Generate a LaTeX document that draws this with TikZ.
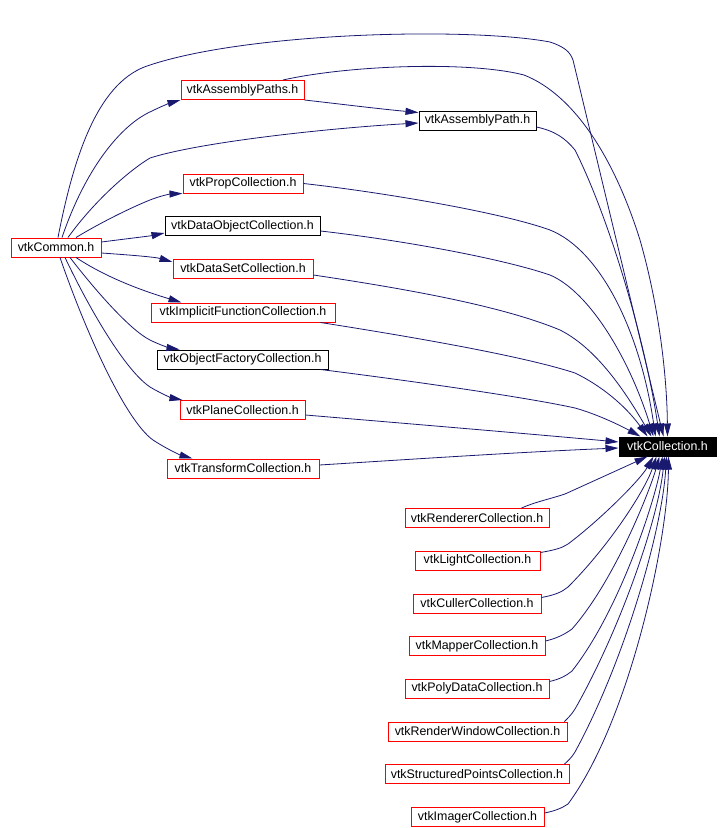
\documentclass[tikz,border=0pt]{standalone}
\usepackage{fontspec}
\setmainfont{Liberation Sans}
\usetikzlibrary{arrows.meta}

\definecolor{edgeblue}{HTML}{191970}

\begin{document}
\begin{tikzpicture}
[
	x=1pt,y=-1pt,
	box/.style={draw,line width=1pt,inner sep=0pt,minimum height=19pt,font=\fontsize{12.4}{14}\selectfont},
	redbox/.style={box,draw=red},
	blackbox/.style={box,draw=black},
	mainbox/.style={box,draw=black,fill=black,text=white},
	edge/.style={edgeblue,line width=0.8pt,-{Triangle[length=13pt,width=7pt]}}
]

	\useasboundingbox (0,0) rectangle (728,828);

	% headers
	\node[redbox,minimum width=90] at (56,247.5) (common) {vtkCommon.h};
	\node[redbox,minimum width=123] at (242.5,90) (paths) {vtkAssemblyPaths.h};
	\node[blackbox,minimum width=117] at (477.5,120.5) (path) {vtkAssemblyPath.h};
	\node[redbox,minimum width=120] at (243,183.5) (prop) {vtkPropCollection.h};
	\node[blackbox,minimum width=155] at (242.5,226) (dataobj) {vtkDataObjectCollection.h};
	\node[redbox,minimum width=140] at (243,268.5) (dataset) {vtkDataSetCollection.h};
	\node[redbox,minimum width=184] at (243,312.5) (implicit) {vtkImplicitFunctionCollection.h};
	\node[blackbox,minimum width=171] at (242.5,359.5) (objfact) {vtkObjectFactoryCollection.h};
	\node[redbox,minimum width=125] at (242.5,410) (plane) {vtkPlaneCollection.h};
	\node[redbox,minimum width=152] at (243,468.5) (transform) {vtkTransformCollection.h};
	\node[mainbox,minimum width=97] at (667.5,446.5) (coll) {vtkCollection.h};
	\node[redbox,minimum width=144] at (477,518) (renderer) {vtkRendererCollection.h};
	\node[redbox,minimum width=125] at (477.5,560.5) (light) {vtkLightCollection.h};
	\node[redbox,minimum width=128] at (477,603.5) (culler) {vtkCullerCollection.h};
	\node[redbox,minimum width=136] at (477,646) (mapper) {vtkMapperCollection.h};
	\node[redbox,minimum width=144] at (477,688.5) (polydata) {vtkPolyDataCollection.h};
	\node[redbox,minimum width=179] at (477.5,731.5) (renderwin) {vtkRenderWindowCollection.h};
	\node[redbox,minimum width=184] at (477,774) (structpts) {vtkStructuredPointsCollection.h};
	\node[redbox,minimum width=133] at (477.5,817) (imager) {vtkImagerCollection.h};

	% edges out of vtkCommon.h
	\draw[edge] ([xshift=2pt]common.north) .. controls (75,150) and (100,80) .. (150,65)
		.. controls (250,32) and (470,27) .. (550,42) .. controls (565,47) and (570,52) .. (573,60)
		-- ([xshift=-4pt]coll.north);
	\draw[edge] ([xshift=6pt]common.north) .. controls (85,170) and (120,125) .. (152,111)
		.. controls (160,107) and (170,103) .. (paths.south west);
	\draw[edge] ([xshift=12pt]common.north) .. controls (95,200) and (130,170) .. (150,158)
		.. controls (200,142) and (330,128) .. ([yshift=-2.5pt]path.west);
	\draw[edge] ([xshift=20pt]common.north) .. controls (100,223) and (130,208) .. (150,200)
		.. controls (160,196) and (170,194) .. (prop.south west);
	\draw[edge] ([yshift=5.5pt]common.east) .. controls (125,239) and (150,236) .. ([yshift=-7pt]dataobj.west);
	\draw[edge] ([yshift=-5.5pt]common.east) .. controls (130,255) and (155,257) .. ([yshift=6.5pt]dataset.west);
	\draw[edge] ([xshift=20pt]common.south) .. controls (110,280) and (150,293) .. ([xshift=31pt]implicit.north west);
	\draw[edge] ([xshift=14pt]common.south) .. controls (95,290) and (130,330) .. (150,340)
		.. controls (160,345) and (170,348) .. ([xshift=23pt]objfact.north west);
	\draw[edge] ([xshift=9pt]common.south) .. controls (90,310) and (125,370) .. (150,387)
		.. controls (160,393) and (172,398) .. ([xshift=3pt]plane.north west);
	\draw[edge] ([xshift=4pt]common.south) .. controls (85,330) and (125,420) .. (153,440)
		.. controls (165,448) and (180,455) .. ([xshift=26pt]transform.north west);

	% vtkAssemblyPaths.h and vtkAssemblyPath.h
	\draw[edge] (paths.south east) .. controls (340,104) and (380,109) .. ([yshift=-2pt]path.north west);
	\draw[edge] ([xshift=40.5pt]paths.north) .. controls (350,65) and (470,61) .. (524,75)
		.. controls (575,95) and (615,160) .. (640,240) .. controls (660,310) and (667,380) .. (coll.north);
	\draw[edge] ([yshift=-6.5pt]path.east) .. controls (555,131) and (565,138) .. (575,150)
		.. controls (610,220) and (645,340) .. ([xshift=-8pt]coll.north);

	% left column into vtkCollection.h
	\draw[edge] (prop.east) .. controls (380,192) and (500,212) .. (550,230)
		.. controls (600,250) and (640,330) .. ([xshift=-12pt]coll.north);
	\draw[edge] ([yshift=-5pt]dataobj.east) .. controls (400,240) and (500,258) .. (550,275)
		.. controls (590,292) and (630,360) .. ([xshift=-14pt]coll.north);
	\draw[edge] ([yshift=-6.5pt]dataset.east) .. controls (400,288) and (500,305) .. (560,330)
		.. controls (600,350) and (630,400) .. ([xshift=-16pt]coll.north);
	\draw[edge] ([xshift=-15pt]implicit.south east) .. controls (400,335) and (520,355) .. (575,373)
		.. controls (600,385) and (625,405) .. ([xshift=-20pt]coll.north);
	\draw[edge] ([xshift=-8pt]objfact.south east) .. controls (420,382) and (530,398) .. (575,408)
		.. controls (600,415) and (625,428) .. ([xshift=-27pt]coll.north);
	\draw[edge] ([yshift=-5pt]plane.east) .. controls (400,423) and (520,433) .. ([yshift=4.5pt]coll.west);
	\draw[edge] ([yshift=3.5pt]transform.east) .. controls (400,460) and (520,452) .. ([yshift=-1.5pt]coll.west);

	% right column into vtkCollection.h
	\draw[edge] ([xshift=-28pt]renderer.north east) .. controls (535,502) and (550,499) .. (565,494)
		-- ([xshift=-20pt]coll.south);
	\draw[edge] ([yshift=-2pt]light.north east) .. controls (555,550) and (562,548) .. (568,544)
		.. controls (600,520) and (640,480) .. ([xshift=-14pt]coll.south);
	\draw[edge] ([yshift=-4pt]culler.north east) .. controls (555,595) and (562,592) .. (568,587)
		.. controls (610,545) and (645,490) .. ([xshift=-11pt]coll.south);
	\draw[edge] ([yshift=-5pt]mapper.north east) .. controls (558,638) and (565,634) .. (572,629)
		.. controls (615,580) and (650,490) .. ([xshift=-8pt]coll.south);
	\draw[edge] ([yshift=-3pt]polydata.north east) .. controls (560,679) and (566,676) .. (572,671)
		.. controls (620,610) and (655,500) .. ([xshift=-5pt]coll.south);
	\draw[edge] ([xshift=-3pt]renderwin.north east) .. controls (568,718) and (572,714) .. (575,709)
		.. controls (620,630) and (658,520) .. ([xshift=-3pt]coll.south);
	\draw[edge] ([xshift=-5pt]structpts.north east) .. controls (568,761) and (572,757) .. (575,752)
		.. controls (625,660) and (662,530) .. ([xshift=-1pt]coll.south);
	\draw[edge] ([yshift=4pt]imager.east) .. controls (555,811) and (562,808) .. (568,804)
		.. controls (630,720) and (668,540) .. ([xshift=1pt]coll.south);

\end{tikzpicture}
\end{document}
